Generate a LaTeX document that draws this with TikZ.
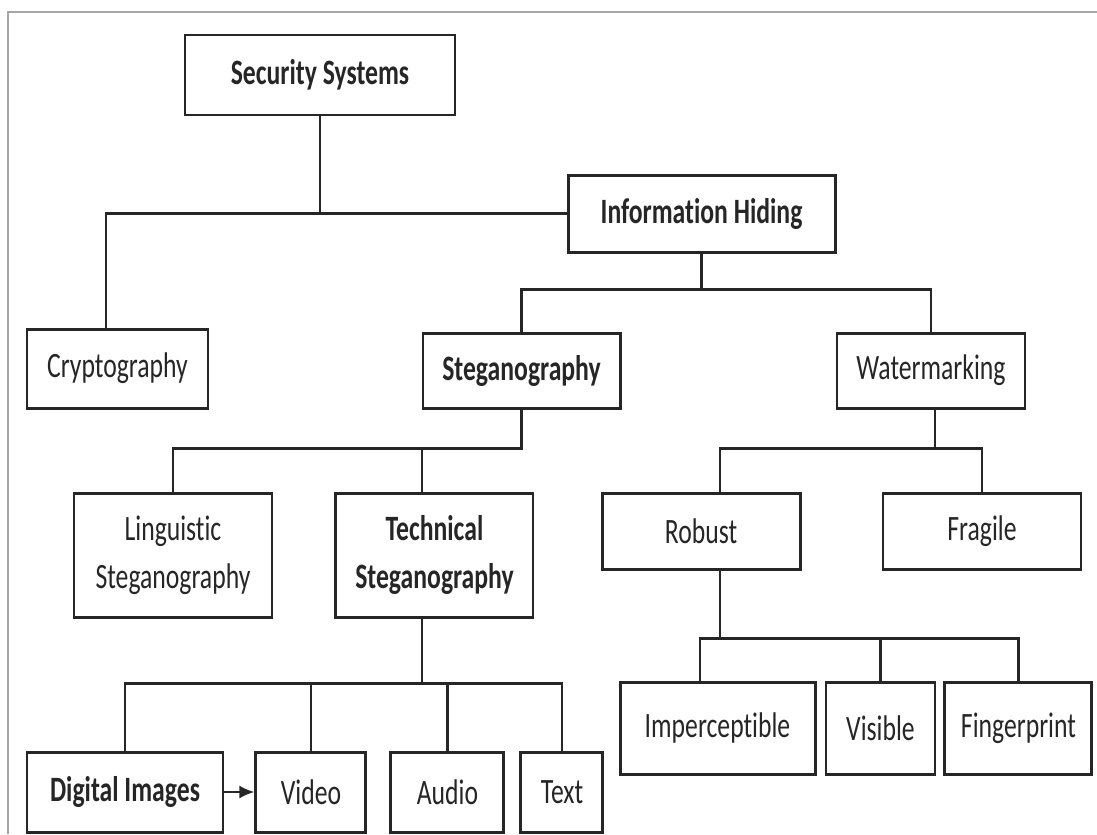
\documentclass[tikz,border=0pt]{standalone}
\usepackage{fontspec}
\setmainfont{Carlito}[FakeStretch=0.72, Ligatures=NoCommon]
\usetikzlibrary{positioning, arrows.meta}

\begin{document}
\begin{tikzpicture}[
    >={Latex[length=0.3cm, width=0.26cm]},
    box/.style={
        rectangle,
        draw=black!85,
        fill=white,
        line width=1.7pt,
        inner sep=0pt,
        align=center,
        text=black!85,
        font=\fontsize{20.3}{27.3}\selectfont
    },
    topic/.style={
        box,
        font=\fontsize{20.3}{27.3}\selectfont\bfseries
    },
    link/.style={
        draw=black!85,
        line width=1.4pt
    },
    arrow/.style={
        link,
        ->
    }
]

    \useasboundingbox (0,0) rectangle (21.94,-16.68);
    \draw[gray!70, line width=1pt] (0.16,-16.68) |- (21.94,-0.24);

    % Top levels
    \node[topic, minimum width=5.4cm, minimum height=1.6cm] (sec) at (6.4,-1.5) {Security Systems};
    \node[topic, minimum width=5.34cm, minimum height=1.54cm] (info) at (14.03,-4.27) {Information Hiding};
    \node[box, minimum width=3.62cm, minimum height=1.58cm] (crypt) at (2.35,-7.37) {Cryptography};
    \node[topic, minimum width=3.94cm, minimum height=1.5cm] (steg) at (10.43,-7.41) {Steganography};
    \node[box, minimum width=3.76cm, minimum height=1.5cm, right=4.28cm of steg] (water) {Watermarking};

    % Steganography branch
    \node[box, minimum width=3.96cm, minimum height=2.48cm] (ling) at (3.46,-11.1) {Linguistic\\Steganography};
    \node[topic, minimum width=3.94cm, minimum height=2.48cm, right=1.22cm of ling] (tech) {Technical\\Steganography};

    % Watermarking branch
    \node[box, minimum width=3.96cm, minimum height=1.52cm] (robust) at (14.02,-10.62) {Robust};
    \node[box, minimum width=3.96cm, minimum height=1.52cm, right=1.6cm of robust] (fragile) {Fragile};

    % Robust kinds
    \node[box, minimum width=3.9cm, minimum height=1.84cm] (imperc) at (14.35,-14.56) {Imperceptible};
    \node[box, minimum width=2.18cm, minimum height=1.84cm, right=0.16cm of imperc] (visible) {Visible};
    \node[box, minimum width=2.94cm, minimum height=1.84cm, right=0.14cm of visible] (finger) {Fingerprint};

    % Carriers
    \node[topic, minimum width=3.92cm, minimum height=1.6cm] (digital) at (2.5,-15.84) {Digital Images};
    \node[box, minimum width=2.2cm, minimum height=1.6cm, right=0.6cm of digital] (video) {Video};
    \node[box, minimum width=2.26cm, minimum height=1.6cm, right=0.44cm of video] (audio) {Audio};
    \node[box, minimum width=1.64cm, minimum height=1.6cm, right=0.28cm of audio] (text) {Text};

    % Connections
    \draw[link] (sec.south) |- (info.west);
    \draw[link] (sec.south |- info.west) -| ([xshift=-0.23cm]crypt.north);

    \draw[link] (info.south) -- ++(0,-0.72) coordinate (infobar) -| (steg.north);
    \draw[link] (infobar) -| (water.north);

    \draw[link] (steg.south) -- ++(0,-0.78) coordinate (stegbar) -| (ling.north);
    \draw[link] (stegbar) -| ([xshift=-0.25cm]tech.north);

    \draw[link] ([xshift=0.08cm]water.south) -- ++(0,-0.78) coordinate (waterbar) -| ([xshift=0.38cm]robust.north);
    \draw[link] (waterbar) -| (fragile.north);

    \draw[link] ([xshift=0.38cm]robust.south) -- ++(0,-1.36) coordinate (robustbar) -| ([xshift=-0.35cm]imperc.north);
    \draw[link] (robustbar) -| (visible.north);
    \draw[link] (robustbar) -| (finger.north);

    \draw[link] ([xshift=-0.25cm]tech.south) -- ++(0,-1.3) coordinate (techbar) -| (digital.north);
    \draw[link] (techbar) -| (video.north);
    \draw[link] (techbar) -| (audio.north);
    \draw[link] (techbar) -| (text.north);

    \draw[arrow] (digital) -- (video);

\end{tikzpicture}
\end{document}
